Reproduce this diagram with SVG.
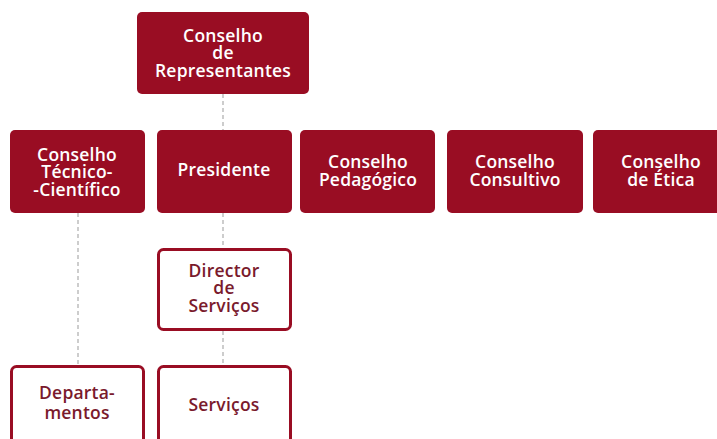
<svg xmlns="http://www.w3.org/2000/svg" width="717" height="439" viewBox="0 0 717 439">
<style>
.f{fill:#990d23}
.o{fill:#ffffff;stroke:#990d23;stroke-width:3}
.t{font-family:"Open Sans","Liberation Sans",sans-serif;font-size:17.5px;font-weight:600;text-anchor:middle;fill:#ffffff;letter-spacing:0.2px}
.d{fill:#7a1a2c}
.c{stroke:#bdbdbd;stroke-width:1.5;stroke-dasharray:4 3;fill:none}
</style>
<rect width="717" height="439" fill="#ffffff"/>
<g id="connectors">
<line class="c" x1="223" y1="94" x2="223" y2="130"/>
<line class="c" x1="223" y1="213" x2="223" y2="248"/>
<line class="c" x1="223" y1="331" x2="223" y2="365"/>
<line class="c" x1="78" y1="213" x2="78" y2="365"/>
</g>
<g id="conselho-representantes">
<rect class="f" x="137" y="12" width="172" height="82" rx="5"/>
<text class="t" x="223" y="42">Conselho</text>
<text class="t" x="223" y="59">de</text>
<text class="t" x="223" y="77">Representantes</text>
</g>
<g id="conselho-tecnico">
<rect class="f" x="10" y="130" width="135" height="83" rx="5"/>
<text class="t" x="77" y="161">Conselho</text>
<text class="t" x="77" y="178">Técnico-</text>
<text class="t" x="77" y="196">-Científico</text>
</g>
<g id="presidente">
<rect class="f" x="157" y="130" width="135" height="83" rx="5"/>
<text class="t" x="224" y="176">Presidente</text>
</g>
<g id="conselho-pedagogico">
<rect class="f" x="300" y="130" width="135" height="83" rx="5"/>
<text class="t" x="368" y="168">Conselho</text>
<text class="t" x="368" y="186">Pedagógico</text>
</g>
<g id="conselho-consultivo">
<rect class="f" x="447" y="130" width="136" height="83" rx="5"/>
<text class="t" x="515" y="168">Conselho</text>
<text class="t" x="515" y="186">Consultivo</text>
</g>
<g id="conselho-etica">
<rect class="f" x="593" y="130" width="135" height="83" rx="5"/>
<text class="t" x="661" y="168">Conselho</text>
<text class="t" x="661" y="186">de Ética</text>
</g>
<g id="director-servicos">
<rect class="o" x="158.5" y="249.5" width="132" height="80" rx="5"/>
<text class="t d" x="224" y="277">Director</text>
<text class="t d" x="224" y="294">de</text>
<text class="t d" x="224" y="312">Serviços</text>
</g>
<g id="departamentos">
<rect class="o" x="11.5" y="366.5" width="132" height="90" rx="5"/>
<text class="t d" x="77" y="399">Departa-</text>
<text class="t d" x="77" y="419">mentos</text>
</g>
<g id="servicos">
<rect class="o" x="158.5" y="366.5" width="132" height="90" rx="5"/>
<text class="t d" x="224" y="411">Serviços</text>
</g>
</svg>
